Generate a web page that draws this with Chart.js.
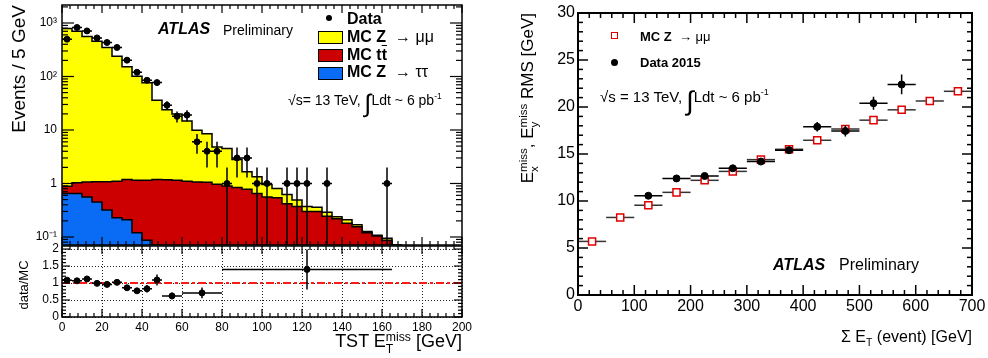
<!DOCTYPE html>
<html>
<head>
<meta charset="utf-8">
<script src="https://cdn.jsdelivr.net/npm/chart.js@4.4.1/dist/chart.umd.min.js"></script>
<style>
  body { margin: 0; background: #fff; }
  #wrap { position: relative; width: 988px; height: 358px; overflow: hidden;
          font-family: "Liberation Sans", Arial, Helvetica, sans-serif; color: #000; }
  canvas { position: absolute; }
  .t { position: absolute; white-space: nowrap; line-height: 1; z-index: 3; }
  .b { font-weight: bold; }
  .bi { font-weight: bold; font-style: italic; }
  .n { font-weight: normal; }
  .ss { display: inline-block; vertical-align: -0.45em; font-size: 0.68em; line-height: 0.95; text-align: left; }
  .ss span { display: block; }
  .sb { font-size: 0.65em; vertical-align: -0.35em; line-height: 0; }
  .sup { font-size: 0.6em; vertical-align: 0.75em; line-height: 0; }
  .int { font-size: 1.8em; vertical-align: -0.28em; line-height: 0; font-weight: 300; }
  .box { position: absolute; box-sizing: border-box; border: 1.5px solid #000; z-index: 3; }
  .rot { position: absolute; white-space: nowrap; transform-origin: 0 0; transform: rotate(-90deg); z-index: 3; }
</style>
</head>
<body>
<div id="wrap">
  <canvas id="top" width="480" height="250" style="left:0;top:0;z-index:1"></canvas>
  <canvas id="ratio" width="480" height="122" style="left:0;top:236px;z-index:2"></canvas>
  <canvas id="rms" width="500" height="358" style="left:488px;top:0;z-index:1"></canvas>

  <!-- left panel texts -->
  <div class="t bi" style="left:158px;top:21px;font-size:16px">ATLAS</div>
  <div class="t" style="left:223px;top:23px;font-size:14px">Preliminary</div>

  <div class="box" style="left:326px;top:15px;width:6px;height:6px;border:0;border-radius:50%;background:#000"></div>
  <div class="t b" style="left:347px;top:11px;font-size:16px">Data</div>
  <div class="box" style="left:318px;top:31px;width:25px;height:13px;background:#ffff00"></div>
  <div class="t b" style="left:347px;top:29px;font-size:16px">MC Z&nbsp;&nbsp;<span class="n">→&nbsp;μμ</span></div>
  <div class="box" style="left:318px;top:49px;width:25px;height:13px;background:#cc0000"></div>
  <div class="t b" style="left:347px;top:47px;font-size:16px">MC t<span style="text-decoration:overline">t</span></div>
  <div class="box" style="left:318px;top:67px;width:25px;height:13px;background:#0a6cf5"></div>
  <div class="t b" style="left:347px;top:64px;font-size:16px">MC Z&nbsp;&nbsp;<span class="n">→&nbsp;ττ</span></div>

  <div class="t" style="left:288px;top:93px;font-size:14px">√s= 13 TeV, <span class="int">∫</span>Ldt ~ 6 pb<span class="sup">-1</span></div>

  <div class="rot" style="left:9px;top:245px;width:240px;height:19px;font-size:19px;line-height:19px;text-align:right">Events / 5 GeV</div>
  <div class="rot" style="left:17px;top:335px;width:100px;height:14px;font-size:13px;line-height:14px;text-align:center">data/MC</div>
  <div class="t" style="left:162px;top:332px;width:300px;text-align:right;font-size:18px">TST E<span class="ss"><span>miss</span><span>T</span></span> [GeV]</div>

  <!-- right panel texts -->
  <div class="box" style="left:611px;top:32px;width:7px;height:7px;border-color:#e00000;background:#fff"></div>
  <div class="t b" style="left:640px;top:30px;font-size:13px">MC Z&nbsp;&nbsp;<span class="n">→&nbsp;μμ</span></div>
  <div class="box" style="left:611px;top:59px;width:7px;height:7px;border:0;border-radius:50%;background:#000"></div>
  <div class="t b" style="left:640px;top:56px;font-size:13px">Data 2015</div>
  <div class="t" style="left:600px;top:89px;font-size:15px">√s = 13 TeV, <span class="int">∫</span>Ldt ~ 6 pb<span class="sup">-1</span></div>
  <div class="t bi" style="left:773px;top:257px;font-size:16px">ATLAS</div>
  <div class="t" style="left:839px;top:257px;font-size:16px">Preliminary</div>

  <div class="rot" style="left:518px;top:318px;width:305px;height:18px;font-size:17px;line-height:18px;text-align:right">E<span class="ss"><span>miss</span><span>x</span></span>, E<span class="ss"><span>miss</span><span>y</span></span> RMS [GeV]</div>
  <div class="t" style="left:672px;top:329px;width:300px;text-align:right;font-size:16px">Σ E<span class="sb">T</span> (event) [GeV]</div>
</div>

<script>
// ---- left: TST E_T^miss distribution, 5 GeV bins starting at 0
const binWidth = 5;
const mcTotalTop = [460, 790, 700, 560, 455, 350, 238, 152, 101, 76, 36, 24, 20, 14.8, 9.9, 8.5, 4.8, 4.5, 2.8, 1.65,
  1.33, 0.96, 0.81, 0.62, 0.49, 0.37, 0.36, 0.29, 0.24, 0.21, 0.17, 0.127, 0.108, 0.095];
const mcTtbarTop = [0.45, 0.89, 1.03, 1.07, 1.08, 1.08, 1.10, 1.19, 1.15, 1.15, 1.19, 1.17, 1.15, 1.10, 1.07, 1.05, 0.97, 0.90, 0.84, 0.78,
  0.65, 0.56, 0.54, 0.42, 0.37, 0.30, 0.30, 0.245, 0.22, 0.18, 0.155, 0.12, 0.104, 0.087];
const mcZtautau = [0.39, 0.65, 0.65, 0.56, 0.45, 0.32, 0.23, 0.21, 0.12, 0.087];

const dataEtCenters = [2.5, 7.5, 12.5, 17.5, 22.5, 27.5, 32.5, 37.5, 42.5, 47.5, 52.5, 57.5, 62.5, 67.5, 72.5, 77.5,
  82.5, 87.5, 92.5, 97.5, 102.5, 112.5, 117.5, 122.5, 132.5, 162.5];
const dataEvents = [498, 824, 711, 526, 432, 349, 202, 120, 85, 77, 29, 18, 19, 6, 4, 4, 1, 3, 3, 1, 1, 1, 1, 1, 1, 1];
const dataEventsErr = [22.3, 28.7, 26.7, 22.9, 20.8, 18.7, 14.2, 11.0, 9.2, 8.8, 5.4, 4.2, 4.4, 2.4, 2.0, 2.0,
  1.0, 1.7, 1.7, 1.0, 1.0, 1.0, 1.0, 1.0, 1.0, 1.0];

const logTickValues = [0.1, 1, 10, 100, 1000];
const logTickText = ['10⁻¹', '1', '10', '10²', '10³'];
const topYMin = 0.0708, topYMax = 2170;

// ---- ratio panel
const ratioCenters = [2.5, 7.5, 12.5, 17.5, 22.5, 27.5, 32.5, 37.5, 42.5, 47.5, 55, 70, 122.5];
const ratioHalfWidth = [2.5, 2.5, 2.5, 2.5, 2.5, 2.5, 2.5, 2.5, 2.5, 2.5, 5, 10, 42.5];
const ratioValues = [1.085, 1.065, 1.12, 0.99, 0.96, 1.02, 0.86, 0.77, 0.83, 1.09, 0.62, 0.71, 1.40];
const ratioErr = [0.05, 0.04, 0.04, 0.04, 0.05, 0.05, 0.06, 0.075, 0.11, 0.16, 0.10, 0.16, 0.59];
const ratioTickValues = [0, 0.5, 1, 1.5, 2];
const ratioTickText = ['0', '0.5', '1', '1.5', '2'];

// ---- right: RMS vs sum E_T, 50 GeV bins
const sumEtHalfBin = 25;
const sumEtCenters = [25, 75, 125, 175, 225, 275, 325, 375, 425, 475, 525, 575, 625, 675];
const mcRms = [5.7, 8.25, 9.55, 10.92, 12.2, 13.15, 14.4, 15.5, 16.46, 17.66, 18.6, 19.7, 20.64, 21.67];
const dataSumEt = [125, 175, 225, 275, 325, 375, 425, 475, 525, 575];
const dataRms = [10.56, 12.4, 12.66, 13.48, 14.2, 15.4, 17.9, 17.45, 20.4, 22.4];
const dataRmsErr = [0.2, 0.2, 0.2, 0.3, 0.3, 0.4, 0.5, 0.6, 0.7, 1.05];

Chart.defaults.font.family = '"Liberation Sans", Arial, Helvetica, sans-serif';
Chart.defaults.color = '#000';

// ROOT style frame: box plus inward ticks on all four sides
const framePlugin = {
  id: 'frame',
  afterDraw(chart, args, opts) {
    const { ctx, chartArea: a } = chart;
    const xs = chart.scales.x, ys = chart.scales.y;
    ctx.save();
    ctx.strokeStyle = '#000';
    ctx.lineWidth = opts.tickWidth || 1.2;
    const seg = (x1, y1, x2, y2) => { ctx.beginPath(); ctx.moveTo(x1, y1); ctx.lineTo(x2, y2); ctx.stroke(); };
    const linTicks = (min, max, minor, major) => {
      const out = [];
      for (let k = Math.ceil(min / minor - 1e-9); k * minor <= max + 1e-9; k++) {
        const v = k * minor;
        out.push({ v, major: Math.abs(v / major - Math.round(v / major)) < 1e-6 });
      }
      return out;
    };
    linTicks(xs.min, xs.max, opts.x.minor, opts.x.major).forEach(t => {
      const px = xs.getPixelForValue(t.v);
      const L = t.major ? opts.x.len[0] : opts.x.len[1];
      seg(px, a.bottom, px, a.bottom - L);
      seg(px, a.top, px, a.top + L);
    });
    let yt;
    if (opts.y.log) {
      yt = [];
      for (let d = -3; d <= 4; d++) {
        for (let m = 1; m <= 9; m++) {
          const v = m * Math.pow(10, d);
          if (v >= ys.min && v <= ys.max) yt.push({ v, major: m === 1 });
        }
      }
    } else {
      yt = linTicks(ys.min, ys.max, opts.y.minor, opts.y.major);
    }
    yt.forEach(t => {
      const py = ys.getPixelForValue(t.v);
      const L = t.major ? opts.y.len[0] : opts.y.len[1];
      seg(a.left, py, a.left + L, py);
      seg(a.right, py, a.right - L, py);
    });
    ctx.lineWidth = opts.frameWidth || 1.5;
    ctx.strokeRect(a.left, a.top, a.width, a.height);
    ctx.restore();
  }
};

// error bars drawn just before the points of the dataset they belong to
const errorBarPlugin = {
  id: 'errorBars',
  beforeDatasetDraw(chart, args) {
    const ds = chart.data.datasets[args.index];
    if (!ds.errX && !ds.errY) return;
    const { ctx, chartArea: a } = chart;
    const xs = chart.scales.x, ys = chart.scales.y;
    ctx.save();
    ctx.beginPath();
    ctx.rect(a.left, a.top, a.width, a.height);
    ctx.clip();
    ctx.strokeStyle = ds.errColor || '#000';
    ctx.lineWidth = ds.errWidth || 1.5;
    ds.data.forEach((p, i) => {
      const px = xs.getPixelForValue(p.x), py = ys.getPixelForValue(p.y);
      ctx.beginPath();
      if (ds.errX) {
        ctx.moveTo(xs.getPixelForValue(p.x - ds.errX[i]), py);
        ctx.lineTo(xs.getPixelForValue(p.x + ds.errX[i]), py);
      }
      if (ds.errY) {
        const lo = p.y - ds.errY[i];
        ctx.moveTo(px, lo > 0 ? ys.getPixelForValue(lo) : a.bottom);
        ctx.lineTo(px, ys.getPixelForValue(p.y + ds.errY[i]));
      }
      ctx.stroke();
    });
    ctx.restore();
  }
};

function histSteps(values) {
  const pts = values.map((v, i) => ({ x: i * binWidth, y: v }));
  pts.push({ x: values.length * binWidth, y: topYMin });
  return pts;
}

function histDataset(values, color) {
  return {
    type: 'line',
    data: histSteps(values),
    stepped: 'after',
    fill: 'start',
    backgroundColor: color,
    borderColor: '#000',
    borderWidth: 1.5,
    pointRadius: 0
  };
}

// keep the chart area where the frame is, not where the end labels would like it
function fixWidth(w) {
  return s => { s.width = w; s.paddingTop = 0; s.paddingBottom = 0; };
}

const commonOpts = {
  responsive: false,
  animation: false,
  events: []
};

new Chart(document.getElementById('top'), {
  type: 'line',
  data: {
    datasets: [
      {
        type: 'scatter',
        data: dataEtCenters.map((x, i) => ({ x, y: dataEvents[i] })),
        errX: dataEtCenters.map(() => binWidth / 2),
        errY: dataEventsErr,
        pointRadius: 3,
        pointBackgroundColor: '#000',
        pointBorderColor: '#000',
        showLine: false
      },
      histDataset(mcZtautau, '#0a6cf5'),
      histDataset(mcTtbarTop, '#cc0000'),
      histDataset(mcTotalTop, '#ffff00')
    ]
  },
  options: {
    ...commonOpts,
    layout: { padding: { left: 0, right: 18, top: 5, bottom: 1 } },
    plugins: {
      legend: { display: false },
      tooltip: { enabled: false },
      frame: { x: { major: 20, minor: 4, len: [8, 4] }, y: { log: true, len: [12, 6] }, frameWidth: 1.5 }
    },
    scales: {
      x: { type: 'linear', min: 0, max: 200, display: false, ticks: { display: false } },
      y: {
        type: 'logarithmic',
        min: topYMin,
        max: topYMax,
        afterFit: fixWidth(62),
        afterBuildTicks: s => { s.ticks = logTickValues.map(v => ({ value: v })); },
        ticks: { callback: (v, i) => logTickText[i], font: { size: 12 }, padding: 5, autoSkip: false },
        grid: { display: false, drawTicks: false },
        border: { display: false }
      }
    }
  },
  plugins: [framePlugin, errorBarPlugin]
});

new Chart(document.getElementById('ratio'), {
  type: 'scatter',
  data: {
    datasets: [
      {
        data: ratioCenters.map((x, i) => ({ x, y: ratioValues[i] })),
        errX: ratioHalfWidth,
        errY: ratioErr,
        pointRadius: 3,
        pointBackgroundColor: '#000',
        pointBorderColor: '#000'
      },
      {
        type: 'line',
        data: [{ x: 0, y: 1 }, { x: 200, y: 1 }],
        borderColor: '#ff1a1a',
        borderWidth: 2,
        borderDash: [8, 3, 3, 3],
        pointRadius: 0
      }
    ]
  },
  options: {
    ...commonOpts,
    layout: { padding: { left: 0, right: 18, top: 10, bottom: 0 } },
    plugins: {
      legend: { display: false },
      tooltip: { enabled: false },
      frame: { x: { major: 20, minor: 4, len: [8, 4] }, y: { major: 0.5, minor: 0.1, len: [8, 4] }, frameWidth: 1.5 }
    },
    scales: {
      x: {
        type: 'linear', min: 0, max: 200,
        afterFit: s => { s.height = 41; },
        ticks: { stepSize: 20, font: { size: 12 }, padding: 3, autoSkip: false, maxRotation: 0 },
        grid: { color: '#222', lineWidth: 1, drawTicks: false },
        border: { display: false, dash: [1, 2] }
      },
      y: {
        type: 'linear', min: 0, max: 2.09,
        afterFit: fixWidth(62),
        afterBuildTicks: s => { s.ticks = ratioTickValues.map(v => ({ value: v })); },
        ticks: { font: { size: 12 }, padding: 3, autoSkip: false, callback: (v, i) => ratioTickText[i] },
        grid: { color: '#222', lineWidth: 1, drawTicks: false },
        border: { display: false, dash: [1, 2] }
      }
    }
  },
  plugins: [framePlugin, errorBarPlugin]
});

new Chart(document.getElementById('rms'), {
  type: 'scatter',
  data: {
    datasets: [
      {
        data: dataSumEt.map((x, i) => ({ x, y: dataRms[i] })),
        errX: dataSumEt.map(() => sumEtHalfBin),
        errY: dataRmsErr,
        pointRadius: 3.5,
        pointBackgroundColor: '#000',
        pointBorderColor: '#000'
      },
      {
        data: sumEtCenters.map((x, i) => ({ x, y: mcRms[i] })),
        errX: sumEtCenters.map(() => sumEtHalfBin),
        errColor: '#333',
        pointStyle: 'rect',
        pointRadius: 5,
        pointBackgroundColor: '#fff',
        pointBorderColor: '#e00000',
        pointBorderWidth: 1.5
      }
    ]
  },
  options: {
    ...commonOpts,
    layout: { padding: { left: 0, right: 16, top: 13, bottom: 0 } },
    plugins: {
      legend: { display: false },
      tooltip: { enabled: false },
      frame: { x: { major: 100, minor: 20, len: [10, 5] }, y: { major: 5, minor: 1, len: [10, 5] }, frameWidth: 2, tickWidth: 1.5 }
    },
    scales: {
      x: {
        type: 'linear', min: 0, max: 700,
        afterFit: s => { s.height = 63; },
        ticks: { stepSize: 100, font: { size: 16 }, padding: 2, autoSkip: false, maxRotation: 0 },
        grid: { display: false, drawTicks: false },
        border: { display: false }
      },
      y: {
        type: 'linear', min: 0, max: 30,
        afterFit: fixWidth(90),
        ticks: { stepSize: 5, font: { size: 16 }, padding: 3 },
        grid: { display: false, drawTicks: false },
        border: { display: false }
      }
    }
  },
  plugins: [framePlugin, errorBarPlugin]
});
</script>
</body>
</html>
